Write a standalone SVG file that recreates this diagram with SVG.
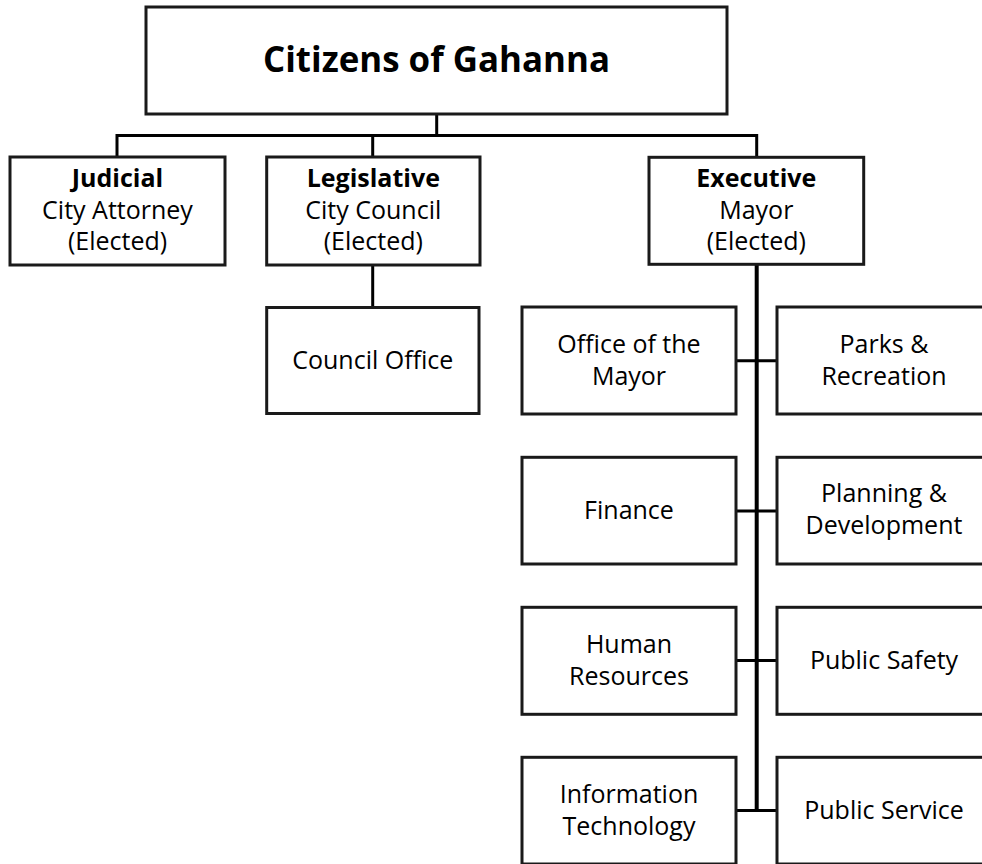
<svg xmlns="http://www.w3.org/2000/svg" width="982" height="864" viewBox="0 0 982 864">
<style>
.box{fill:#fff;stroke:#1a1a1a;stroke-width:3}
.ln{fill:none;stroke:#000;stroke-width:3}
.spine{fill:none;stroke:#000;stroke-width:4}
text{font-family:"Open Sans","Liberation Sans",sans-serif;font-size:25px;fill:#000;text-anchor:middle}
.b{font-weight:bold}
.title{font-size:35px;font-weight:bold}
</style>
<rect width="982" height="864" fill="#fff"/>
<g id="connectors">
<path class="ln" d="M436.7,114 V135.5 M117,157 V135.5 H756.7 V157 M372.7,135.5 V157"/>
<path class="ln" d="M372.7,265 V307.5"/>
<path class="spine" d="M756.7,264 V811"/>
<path class="ln" d="M736,360.7 H777 M736,511 H777 M736,660.5 H777 M736,810.5 H777"/>
</g>
<g id="citizens"><rect class="box" x="146" y="7" width="581" height="107"/><text class="title" x="436.5" y="72" textLength="347" lengthAdjust="spacingAndGlyphs">Citizens of Gahanna</text></g>
<g id="judicial"><rect class="box" x="10" y="157" width="215" height="108"/><text class="b" x="117.5" y="187">Judicial</text><text x="117.5" y="218.5">City Attorney</text><text x="117.5" y="249.5">(Elected)</text></g>
<g id="legislative"><rect class="box" x="266.7" y="157" width="213.3" height="108"/><text class="b" x="373.3" y="187">Legislative</text><text x="373.3" y="218.5">City Council</text><text x="373.3" y="249.5">(Elected)</text></g>
<g id="executive"><rect class="box" x="649" y="157.3" width="214.7" height="107"/><text class="b" x="756.3" y="187">Executive</text><text x="756.3" y="218.5">Mayor</text><text x="756.3" y="249.5">(Elected)</text></g>
<g id="council-office"><rect class="box" x="266.7" y="307.5" width="212.3" height="106"/><text x="372.8" y="369">Council Office</text></g>
<g id="office-mayor"><rect class="box" x="522" y="307" width="214" height="107"/><text x="629" y="353">Office of the</text><text x="629" y="385">Mayor</text></g>
<g id="parks"><rect class="box" x="777" y="307" width="214" height="107"/><text x="884" y="353">Parks &amp;</text><text x="884" y="385">Recreation</text></g>
<g id="finance"><rect class="box" x="522" y="457.3" width="214" height="106.7"/><text x="629" y="518.5">Finance</text></g>
<g id="planning"><rect class="box" x="777" y="457.3" width="214" height="106.7"/><text x="884" y="502">Planning &amp;</text><text x="884" y="534">Development</text></g>
<g id="human-resources"><rect class="box" x="522" y="607.3" width="214" height="107"/><text x="629" y="653.3">Human</text><text x="629" y="685.3">Resources</text></g>
<g id="public-safety"><rect class="box" x="777" y="607.3" width="214" height="107"/><text x="884" y="668.5">Public Safety</text></g>
<g id="information-technology"><rect class="box" x="522" y="757.3" width="214" height="106.7"/><text x="629" y="803.3">Information</text><text x="629" y="835.3">Technology</text></g>
<g id="public-service"><rect class="box" x="777" y="757.3" width="214" height="106.7"/><text x="884" y="818.5">Public Service</text></g>
</svg>
